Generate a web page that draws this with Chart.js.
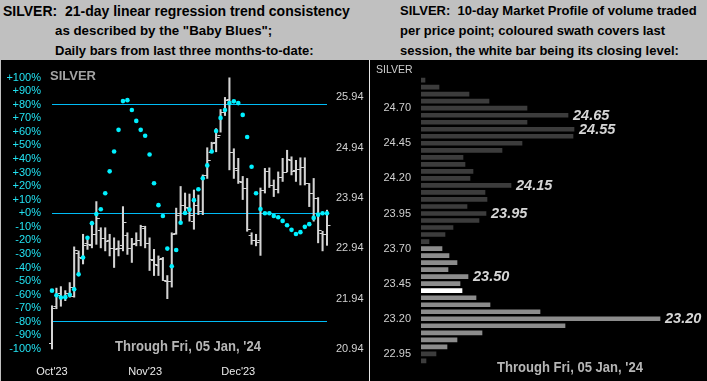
<!DOCTYPE html>
<html><head><meta charset="utf-8">
<script src="https://cdn.jsdelivr.net/npm/chart.js@4.4.0/dist/chart.umd.min.js"></script>
<style>
html,body{margin:0;padding:0;}
body{width:707px;height:381px;background:#c0c0c0;position:relative;overflow:hidden;font-family:"Liberation Sans",Arial,sans-serif;}
.t{position:absolute;font-weight:bold;font-size:13px;line-height:20px;color:#000;white-space:pre;}
.panel{position:absolute;top:60px;height:321px;background:#000;}
.sep{position:absolute;left:369px;top:60px;width:1px;height:321px;background:#e6e6e6;}
.lab{position:absolute;white-space:pre;}
.thru{position:absolute;font-weight:bold;font-size:15px;line-height:15px;color:#b6b6b6;white-space:pre;transform:scaleX(0.87);transform-origin:0 50%;}
canvas{display:block;}
</style></head>
<body>
<div class="t" style="left:3px;top:1px;font-size:14px;">SILVER:  21-day linear regression trend consistency</div>
<div class="t" style="left:55px;top:21px;font-size:13.3px;">as described by the "Baby Blues";</div>
<div class="t" style="left:55px;top:41px;">Daily bars from last three months-to-date:</div>
<div class="t" style="left:400px;top:1px;">SILVER:  10-day Market Profile of volume traded</div>
<div class="t" style="left:400px;top:21px;">per price point; coloured swath covers last</div>
<div class="t" style="left:400px;top:41px;">session, the white bar being its closing level:</div>

<div class="panel" style="left:1px;width:368px;"><canvas id="left" width="368" height="321"></canvas></div>
<div class="sep"></div>
<div class="panel" style="left:370px;width:337px;"><canvas id="right" width="337" height="321"></canvas></div>

<div class="lab" style="left:50px;top:68px;font-weight:bold;font-size:13px;line-height:16px;color:#a4a4a4;">SILVER</div>
<div class="lab" style="left:376px;top:63px;font-size:10.5px;line-height:12px;color:#d0d0d0;">SILVER</div>
<div class="thru" style="left:115px;top:338px;">Through Fri, 05 Jan, '24</div>
<div class="thru" style="left:497px;top:359px;">Through Fri, 05 Jan, '24</div>

<script>
// ---------- Left panel data ----------
const dates = [
 "2023-10-06","2023-10-09","2023-10-10","2023-10-11","2023-10-12","2023-10-13",
 "2023-10-16","2023-10-17","2023-10-18","2023-10-19","2023-10-20",
 "2023-10-23","2023-10-24","2023-10-25","2023-10-26","2023-10-27",
 "2023-10-30","2023-10-31","2023-11-01","2023-11-02","2023-11-03",
 "2023-11-06","2023-11-07","2023-11-08","2023-11-09","2023-11-10",
 "2023-11-13","2023-11-14","2023-11-15","2023-11-16","2023-11-17",
 "2023-11-20","2023-11-21","2023-11-22","2023-11-24",
 "2023-11-27","2023-11-28","2023-11-29","2023-11-30","2023-12-01",
 "2023-12-04","2023-12-05","2023-12-06","2023-12-07","2023-12-08",
 "2023-12-11","2023-12-12","2023-12-13","2023-12-14","2023-12-15",
 "2023-12-18","2023-12-19","2023-12-20","2023-12-21","2023-12-22",
 "2023-12-26","2023-12-27","2023-12-28","2023-12-29",
 "2024-01-02","2024-01-03","2024-01-04","2024-01-05"];
const opens = [21.05,21.80,22.05,21.97,22.05,22.00,22.85,22.75,23.05,23.00,23.22,
 23.30,23.15,23.10,22.95,22.95,23.00,23.20,22.95,23.05,23.10,
 23.35,23.05,22.70,22.60,22.75,22.30,22.30,23.25,23.65,23.80,
 23.75,23.49,23.80,23.68,24.40,24.85,25.05,25.20,25.65,
 25.90,24.85,24.50,24.25,24.14,23.20,23.10,23.10,24.10,24.48,
 24.20,24.12,24.35,24.46,24.70,24.50,24.52,24.56,24.23,
 24.04,23.95,23.25,23.22];
const highs = [21.80,22.15,22.18,22.10,22.26,22.97,22.89,23.22,23.18,23.48,23.87,
 23.35,23.35,23.22,23.15,23.09,23.77,23.25,23.14,23.25,23.40,
 23.38,23.15,22.92,22.79,22.76,22.40,23.25,23.74,24.17,24.04,
 24.02,24.10,24.00,24.40,24.94,25.05,25.32,25.70,25.94,
 26.33,24.92,24.73,24.37,24.33,23.25,23.22,24.14,24.53,24.54,
 24.30,24.46,24.73,24.89,24.76,24.69,24.74,24.74,24.23,
 24.33,23.95,23.28,23.70];
const lows = [20.94,21.74,21.79,21.90,21.97,21.97,22.46,22.63,22.92,22.95,23.02,
 22.95,22.89,22.79,22.56,22.79,22.89,22.82,22.66,22.99,22.99,
 22.95,22.50,22.40,22.40,22.30,21.94,22.17,23.22,23.45,23.61,
 23.48,23.32,23.61,23.61,24.33,24.84,24.86,25.25,25.58,
 24.50,24.33,24.23,23.91,23.28,23.02,22.99,22.80,24.04,24.15,
 23.97,24.04,24.27,24.46,24.40,24.27,24.20,24.20,23.77,
 23.48,23.05,22.89,23.00];
const closes = [21.76,22.02,21.97,22.05,22.18,22.90,22.76,23.00,23.02,23.22,23.54,
 23.15,23.09,22.95,22.93,22.95,23.47,22.95,23.02,23.10,23.38,
 23.05,22.72,22.63,22.72,22.31,22.30,23.22,23.61,23.81,23.77,
 23.61,23.81,23.68,24.39,24.69,25.04,25.15,25.65,25.88,
 24.85,24.53,24.28,24.14,23.32,23.10,23.07,24.10,24.48,24.19,
 24.12,24.35,24.46,24.71,24.48,24.52,24.56,24.23,24.04,
 23.94,23.30,23.22,23.40];
// Baby Blues: 21-day linear regression trend consistency (%)
const blues = [-57,-60.4,-62,-61.8,-60,-56,-45,-32.6,-18,-7.3,-0.5,
 3,14.8,30.9,45.5,61.5,82.7,83.4,76.1,68.1,61.5,
 57.2,43.3,22.1,6,-2,-26,-39,-27,-7,0.2,
 2.7,9.7,17.7,25.8,35.3,45.5,60.6,70.3,76.1,
 81.2,82.5,81.2,72.5,56.2,34.3,14.8,3.1,0,0,
 -1.9,-2.9,-5.6,-8.8,-12.2,-15.3,-13.9,-10,-8,
 -3.4,-1,0,0];
const priceTicks = [20.94, 21.94, 22.94, 23.94, 24.94, 25.94];
const monthLabels = ["Oct'23", "Nov'23", "Dec'23"];
const monthLabelDates = ["2023-10-06", "2023-11-06", "2023-12-06"];
const bandLines = [80, 0, -80];

// ---------- Right panel data ----------
const mpPrices = ["24.90","24.85","24.80","24.75","24.70","24.65","24.60","24.55","24.50","24.45",
 "24.40","24.35","24.30","24.25","24.20","24.15","24.10","24.05","24.00","23.95",
 "23.90","23.85","23.80","23.75","23.70","23.65","23.60","23.55","23.50","23.45",
 "23.40","23.35","23.30","23.25","23.20","23.15","23.10","23.05","23.00","22.95","22.90"];
const mpVolumes = [4,18,48,68,106,147,106,153,152,101,
 81,42,44,52,49,90,64,66,46,65,
 58,32,24,8,21,28,36,27,47,39,
 41,55,69,119,239,144,61,36,26,15,5];
const mpTickLabels = ["24.70","24.45","24.20","23.95","23.70","23.45","23.20","22.95"];
const mpPeakLabels = ["24.65","24.55","24.15","23.95","23.50","23.20"];
const sessionLow = 23.00, sessionHigh = 23.70, sessionClose = 23.40;

// ---------- Styles ----------
const FAM = '"Liberation Sans", Arial, sans-serif';
const barGrey = '#d4d4d4';
const cyanDot = '#00f0ff';
const cyanLine = '#00bcf6';
const cyanText = '#22e2f2';

const ohlcTicks = {
  id: 'ohlcTicks',
  afterDatasetDraw(chart, args) {
    if (args.index !== 1) return;
    const ctx = chart.ctx, xs = chart.scales.x, ys = chart.scales.price;
    ctx.save();
    ctx.strokeStyle = barGrey;
    ctx.lineWidth = 1.2;
    ctx.beginPath();
    for (let i = 0; i < closes.length; i++) {
      const x = xs.getPixelForValue(i);
      const yo = Math.round(ys.getPixelForValue(opens[i])) + 0.5;
      const yc = Math.round(ys.getPixelForValue(closes[i])) + 0.5;
      ctx.moveTo(x - 3, yo); ctx.lineTo(x, yo);
      ctx.moveTo(x, yc); ctx.lineTo(x + 3.5, yc);
    }
    ctx.stroke();
    ctx.restore();
  }
};

new Chart(document.getElementById('left'), {
  type: 'bar',
  data: {
    labels: dates,
    datasets: [
      { type: 'line', label: 'Baby Blues', data: blues, yAxisID: 'pct', showLine: false,
        pointRadius: 2.3, pointHoverRadius: 2.3, pointBorderWidth: 0,
        pointBackgroundColor: cyanDot, borderColor: cyanDot, order: 0, clip: false },
      { type: 'bar', label: 'High-Low', data: lows.map((l, i) => [l, highs[i]]), yAxisID: 'price',
        backgroundColor: barGrey, borderWidth: 0, barThickness: 1.4, order: 1, clip: false }
    ]
  },
  options: {
    responsive: false, animation: false,
    layout: { padding: { top: 15, left: 0, right: 0, bottom: 0 } },
    plugins: { legend: { display: false }, tooltip: { enabled: false } },
    scales: {
      x: {
        type: 'category', offset: false,
        grid: { display: false }, border: { display: false },
        ticks: {
          autoSkip: false, maxRotation: 0, minRotation: 0, padding: 8,
          color: '#ececec', font: { size: 11, family: FAM },
          callback: (v, i) => { const k = monthLabelDates.indexOf(dates[i]); return k >= 0 ? monthLabels[k] : ''; }
        },
        afterFit(s) { s.height = 32; }
      },
      pct: {
        type: 'linear', position: 'left', min: -100, max: 100,
        border: { display: false },
        grid: { drawTicks: false, lineWidth: 1,
          color: c => (c.tick && bandLines.includes(Math.round(c.tick.value))) ? cyanLine : 'rgba(0,0,0,0)' },
        ticks: { stepSize: 10, autoSkip: false, padding: 11, color: cyanText,
          font: { size: 11, family: FAM },
          callback: v => (v >= 0 ? '+' : '') + v + '%' },
        afterFit(s) { s.width = 51; }
      },
      price: {
        type: 'linear', position: 'right', min: 20.94, max: 26.334,
        border: { display: false }, grid: { display: false, drawTicks: false },
        afterBuildTicks(s) { s.ticks = priceTicks.map(v => ({ value: v })); },
        ticks: { padding: 9, color: '#d2d2d2', font: { size: 11, family: FAM },
          callback: v => v.toFixed(2) },
        afterFit(s) { s.width = 42; }
      }
    }
  },
  plugins: [ohlcTicks]
});

// ---------- Right panel ----------
const mpColors = mpPrices.map(p => {
  const v = parseFloat(p);
  if (Math.abs(v - sessionClose) < 1e-6) return '#ffffff';
  if (v >= sessionLow - 1e-6 && v <= sessionHigh + 1e-6) return '#8c8c8c';
  return '#3c3c3c';
});

const peakLabels = {
  id: 'peakLabels',
  afterDatasetsDraw(chart) {
    const ctx = chart.ctx;
    const meta = chart.getDatasetMeta(0);
    ctx.save();
    ctx.font = 'italic bold 14.5px ' + FAM;
    ctx.fillStyle = '#d6d6d6';
    ctx.textBaseline = 'middle';
    ctx.textAlign = 'left';
    mpPeakLabels.forEach(p => {
      const i = mpPrices.indexOf(p);
      const el = meta.data[i];
      ctx.fillText(p, el.x + 5, el.y + 0.5);
    });
    ctx.restore();
  }
};

new Chart(document.getElementById('right'), {
  type: 'bar',
  data: { labels: mpPrices,
    datasets: [{ label: 'Volume', data: mpVolumes, backgroundColor: mpColors, borderWidth: 0, barThickness: 4 }] },
  options: {
    indexAxis: 'y', responsive: false, animation: false,
    layout: { padding: { top: 12, bottom: 5.3, left: 0, right: 0 } },
    plugins: { legend: { display: false }, tooltip: { enabled: false } },
    scales: {
      x: { type: 'linear', min: 0, max: 286, display: false },
      y: { type: 'category', grid: { display: false, drawTicks: false }, border: { display: false },
        ticks: { autoSkip: false, padding: 10, color: '#d0d0d0', font: { size: 11, family: FAM },
          callback: (v, i) => mpTickLabels.includes(mpPrices[i]) ? mpPrices[i] : '' },
        afterFit(s) { s.width = 51; } }
    }
  },
  plugins: [peakLabels]
});
</script>
</body></html>
